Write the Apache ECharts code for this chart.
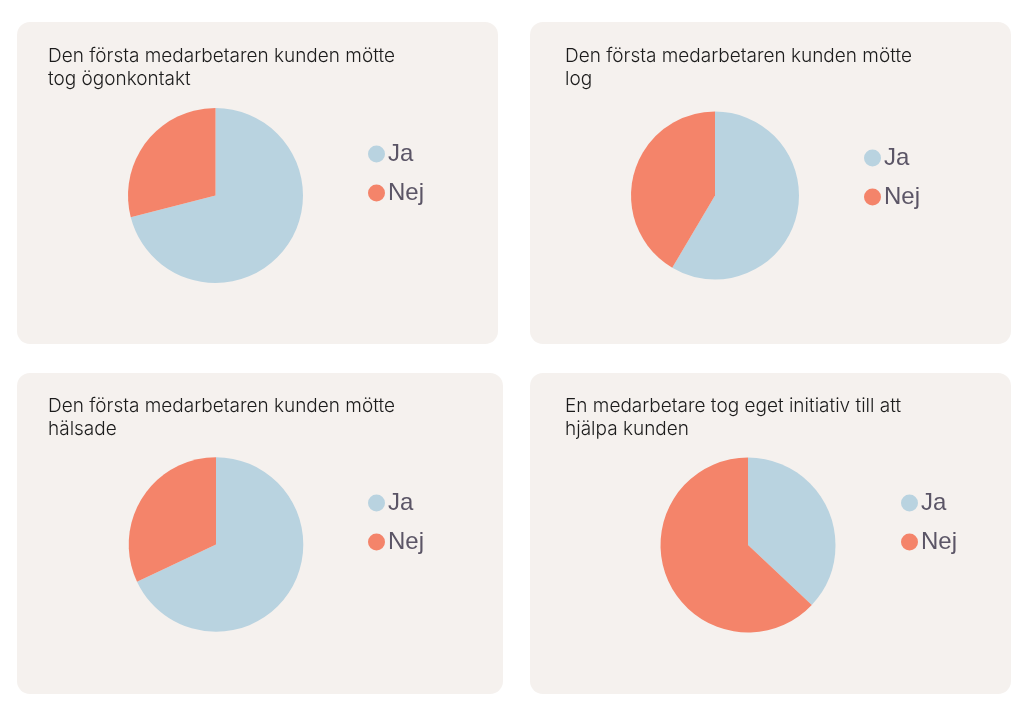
<!DOCTYPE html>
<html>
<head>
<meta charset="utf-8">
<script src="https://cdn.jsdelivr.net/npm/echarts@6/dist/echarts.min.js"></script>
<style>
html,body{margin:0;padding:0;background:#ffffff;}
#chart{width:1031px;height:718px;}
</style>
</head>
<body>
<div id="chart"></div>
<script>
// Data
const categories = ['Ja', 'Nej'];
const titles = [
  'Den första medarbetaren kunden mötte\ntog ögonkontakt',
  'Den första medarbetaren kunden mötte\nlog',
  'Den första medarbetaren kunden mötte\nhälsade',
  'En medarbetare tog eget initiativ till att\nhjälpa kunden'
];
const valuesOgonkontakt = [71, 29];
const valuesLog = [58.5, 41.5];
const valuesHalsade = [68, 32];
const valuesInitiativ = [37, 63];
const seriesValues = [valuesOgonkontakt, valuesLog, valuesHalsade, valuesInitiativ];

// Layout (styling only)
const colors = ['#b9d3e0', '#f4846a'];
const panels = [
  {x: 17, y: 22, w: 481, h: 322},
  {x: 530, y: 22, w: 481, h: 322},
  {x: 17, y: 373, w: 486, h: 321},
  {x: 530, y: 373, w: 481, h: 321}
];
const pies = [
  {c: [215.5, 195.5], r: 87.5},
  {c: [715, 195.5], r: 84},
  {c: [216, 544.5], r: 87.3},
  {c: [748, 545], r: 87.5}
];
const legendPos = [
  {left: 368, top: 142},
  {left: 864, top: 146},
  {left: 368, top: 491},
  {left: 901, top: 491}
];
const titlePos = [
  {left: 48, top: 45},
  {left: 565, top: 45},
  {left: 48, top: 395},
  {left: 565, top: 395}
];

const chart = echarts.init(document.getElementById('chart'), null, {renderer: 'canvas'});

const graphic = panels.map(p => ({
  type: 'rect',
  z: -10,
  silent: true,
  shape: {x: p.x, y: p.y, width: p.w, height: p.h, r: 13},
  style: {fill: '#f5f1ee'}
}));

const option = {
  backgroundColor: '#ffffff',
  animation: false,
  color: colors,
  graphic: graphic,
  title: titles.map((t, i) => ({
    text: t,
    left: titlePos[i].left,
    top: titlePos[i].top,
    padding: 0,
    textStyle: {
      fontFamily: 'Inter',
      fontSize: 19,
      fontWeight: 300,
      color: '#1c1c1c',
      lineHeight: 23
    }
  })),
  legend: seriesValues.map((v, i) => ({
    orient: 'vertical',
    left: legendPos[i].left,
    top: legendPos[i].top,
    padding: 0,
    icon: 'circle',
    itemWidth: 17,
    itemHeight: 17,
    itemGap: 15,
    selectedMode: false,
    data: categories,
    textStyle: {
      fontFamily: 'Liberation Sans',
      fontSize: 24,
      color: '#5b5566',
      padding: [0, 0, 0, -2]
    }
  })),
  series: seriesValues.map((vals, i) => ({
    type: 'pie',
    center: pies[i].c,
    radius: pies[i].r,
    startAngle: 90,
    clockwise: true,
    silent: true,
    label: {show: false},
    labelLine: {show: false},
    itemStyle: {borderWidth: 0},
    data: categories.map((name, k) => ({name: name, value: vals[k]}))
  }))
};
chart.setOption(option);
</script>
</body>
</html>
